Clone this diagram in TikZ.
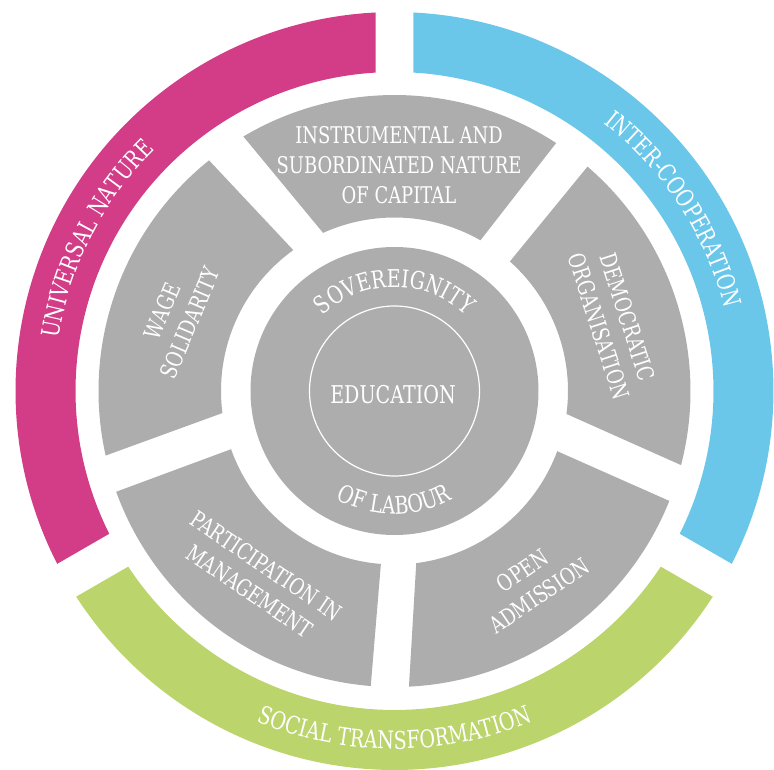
\documentclass[tikz,border=0pt]{standalone}
\usepackage{fontspec}
\setmainfont{DejaVu Serif}[FakeStretch=0.78]
\usepackage{tikz}
\usetikzlibrary{decorations.text}

\definecolor{ringmagenta}{HTML}{D33C87}
\definecolor{ringblue}{HTML}{6BC7EA}
\definecolor{ringgreen}{HTML}{BCD46C}
\definecolor{seggray}{HTML}{ADADAD}

\newcommand{\wheelfont}{\fontsize{24.5}{30}\selectfont}
\newcommand{\piecefont}{\fontsize{23}{30}\selectfont}

\tikzset{
  seglabel/.style={text=white, font=\piecefont, align=center, inner sep=0pt},
  arclabel/.style={decorate, decoration={text along path, text align=center,
      text color=white, text={|\wheelfont|#1}}}
}

\begin{document}
\begin{tikzpicture}[x=1pt,y=1pt]
  \useasboundingbox (-394.5,-378) rectangle (379.5,391);
  % outer ring
  \foreach \os/\oe/\ie/\is/\col in {207.13/92.87/93.41/206.59/ringmagenta,
      87.13/-27.13/-26.59/86.59/ringblue, -32.87/-147.13/-146.59/-33.41/ringgreen}
    \fill[\col] (\os:379pt) arc[start angle=\os, end angle=\oe, radius=379pt]
      -- (\ie:319pt) arc[start angle=\ie, end angle=\is, radius=319pt] -- cycle;
  % middle ring, five pieces
  \foreach \os/\oe/\ie/\is in {120.7/56.9/60.3/114.3, 49.3/-14.5/-7.6/48.3,
      -21.8/-87.2/-82.8/-20.3, -94.6/-160.1/-160.4/-94.5, 192.6/128.8/125.7/187.3}
    \fill[seggray] (\os:296pt) arc[start angle=\os, end angle=\oe, radius=296pt]
      -- (\ie:173.5pt) arc[start angle=\ie, end angle=\is, radius=173.5pt] -- cycle;
  % core
  \fill[seggray] (0,0) circle[radius=144pt];
  \draw[white, line width=1.2pt] (0,0) circle[radius=85pt];
  \node[seglabel, font=\wheelfont] (education) at (-1.5,-4) {EDUCATION};
  \path[arclabel=SOVEREIGNITY] (150:104pt) arc[start angle=150, end angle=30, radius=104pt];
  \path[arclabel=OF LABOUR] (200:123pt) arc[start angle=200, end angle=340, radius=123pt];

  \node[seglabel] (capital) at (4.5,226) {INSTRUMENTAL AND\\SUBORDINATED NATURE\\OF CAPITAL};
  \node[seglabel, rotate=67] (wage) at (-218.5,74) {WAGE\\SOLIDARITY};
  \node[seglabel, rotate=-72] (democratic) at (218.8,69.3) {DEMOCRATIC\\ORGANISATION};
  \node[seglabel, rotate=-34] (participation) at (-136.5,-187.7) {PARTICIPATION IN\\MANAGEMENT};
  \node[seglabel, rotate=34] (admission) at (136.2,-192) {OPEN\\ADMISSION};

  \path[arclabel=UNIVERSAL NATURE] (213:340pt) arc[start angle=213, end angle=93, radius=340pt];
  \path[arclabel=INTER-COOPERATION] (93:340pt) arc[start angle=93, end angle=-27, radius=340pt];
  \path[arclabel=SOCIAL TRANSFORMATION] (200:358pt) arc[start angle=200, end angle=340, radius=358pt];
\end{tikzpicture}
\end{document}
